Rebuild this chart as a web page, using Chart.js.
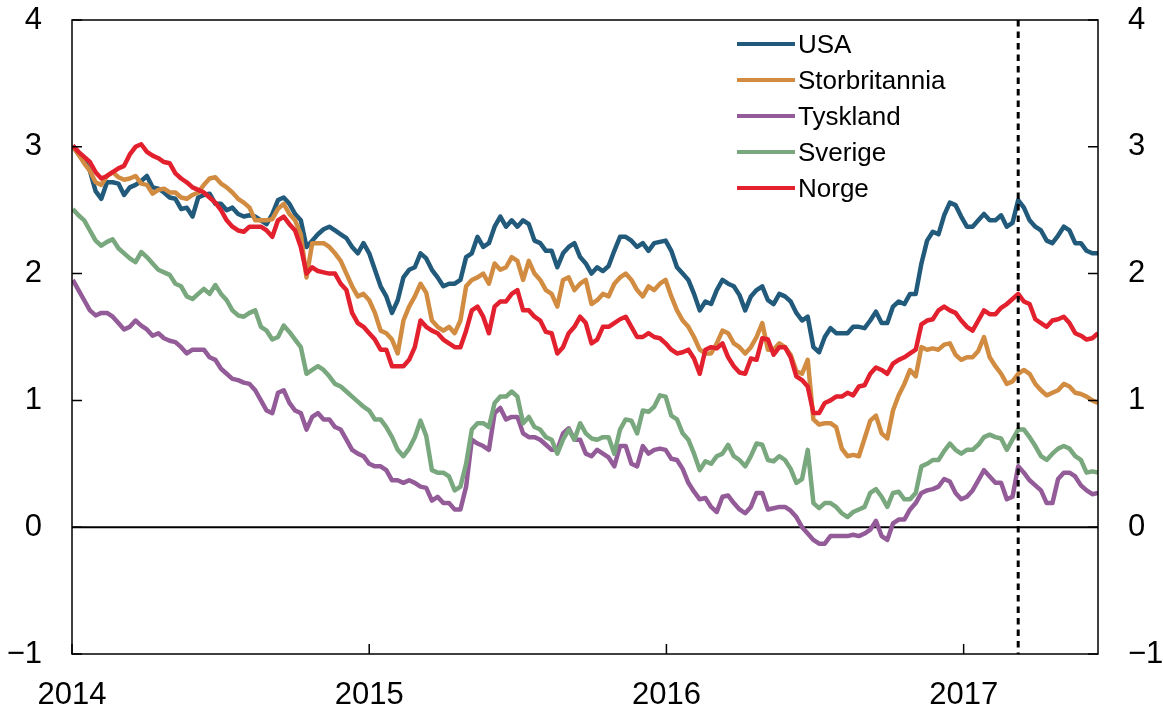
<!DOCTYPE html>
<html>
<head>
<meta charset="utf-8">
<script src="https://cdn.jsdelivr.net/npm/chart.js@4.4.1/dist/chart.umd.min.js"></script>
<style>
  body { margin: 0; background: #fff; }
  #wrap { position: relative; width: 1163px; height: 711px; }
  #legend {
    position: absolute; left: 737px; top: 26px;
    font-family: "Liberation Sans", Arial, sans-serif; font-size: 26px; color: #000;
  }
  .row { height: 36px; display: flex; align-items: center; white-space: nowrap; }
  .swatch { width: 58px; height: 4px; margin-right: 3px; }
</style>
</head>
<body>
<div id="wrap">
  <canvas id="chart" width="1163" height="711"></canvas>
  <div id="legend"></div>
</div>
<script>
// weekly observations, 10-year government bond yields (percent)
const dates = [
  "2014-01-02","2014-01-09","2014-01-16","2014-01-23","2014-01-30","2014-02-06","2014-02-13","2014-02-20",
  "2014-02-27","2014-03-06","2014-03-13","2014-03-20","2014-03-27","2014-04-03","2014-04-10","2014-04-17",
  "2014-04-24","2014-05-01","2014-05-08","2014-05-15","2014-05-22","2014-05-29","2014-06-05","2014-06-12",
  "2014-06-19","2014-06-26","2014-07-03","2014-07-10","2014-07-17","2014-07-24","2014-07-31","2014-08-07",
  "2014-08-14","2014-08-21","2014-08-28","2014-09-04","2014-09-11","2014-09-18","2014-09-25","2014-10-02",
  "2014-10-09","2014-10-16","2014-10-23","2014-10-30","2014-11-06","2014-11-13","2014-11-20","2014-11-27",
  "2014-12-04","2014-12-11","2014-12-18","2014-12-25",
  "2015-01-01","2015-01-08","2015-01-15","2015-01-22","2015-01-29","2015-02-05","2015-02-12","2015-02-19",
  "2015-02-26","2015-03-05","2015-03-12","2015-03-19","2015-03-26","2015-04-02","2015-04-09","2015-04-16",
  "2015-04-23","2015-04-30","2015-05-07","2015-05-14","2015-05-21","2015-05-28","2015-06-04","2015-06-11",
  "2015-06-18","2015-06-25","2015-07-02","2015-07-09","2015-07-16","2015-07-23","2015-07-30","2015-08-06",
  "2015-08-13","2015-08-20","2015-08-27","2015-09-03","2015-09-10","2015-09-17","2015-09-24","2015-10-01",
  "2015-10-08","2015-10-15","2015-10-22","2015-10-29","2015-11-05","2015-11-12","2015-11-19","2015-11-26",
  "2015-12-03","2015-12-10","2015-12-17","2015-12-24","2015-12-31",
  "2016-01-07","2016-01-14","2016-01-21","2016-01-28","2016-02-04","2016-02-11","2016-02-18","2016-02-25",
  "2016-03-03","2016-03-10","2016-03-17","2016-03-24","2016-03-31","2016-04-07","2016-04-14","2016-04-21",
  "2016-04-28","2016-05-05","2016-05-12","2016-05-19","2016-05-26","2016-06-02","2016-06-09","2016-06-16",
  "2016-06-23","2016-06-30","2016-07-07","2016-07-14","2016-07-21","2016-07-28","2016-08-04","2016-08-11",
  "2016-08-18","2016-08-25","2016-09-01","2016-09-08","2016-09-15","2016-09-22","2016-09-29","2016-10-06",
  "2016-10-13","2016-10-20","2016-10-27","2016-11-03","2016-11-10","2016-11-17","2016-11-24","2016-12-01",
  "2016-12-08","2016-12-15","2016-12-22","2016-12-29",
  "2017-01-05","2017-01-12","2017-01-19","2017-01-26","2017-02-02","2017-02-09","2017-02-16","2017-02-23",
  "2017-03-02","2017-03-09","2017-03-16","2017-03-23","2017-03-30","2017-04-06","2017-04-13","2017-04-20",
  "2017-04-27","2017-05-04","2017-05-11","2017-05-18","2017-05-25","2017-06-01","2017-06-08","2017-06-15"
];

const usa = [
  3.01,2.94,2.89,2.81,2.65,2.59,2.72,2.72,2.71,2.62,2.68,2.70,2.73,2.77,2.68,2.67,
  2.64,2.60,2.59,2.51,2.52,2.45,2.60,2.62,2.63,2.55,2.55,2.50,2.52,2.47,2.45,2.46,
  2.45,2.42,2.39,2.47,2.58,2.60,2.55,2.47,2.42,2.21,2.26,2.31,2.35,2.37,2.34,2.31,
  2.28,2.21,2.16,2.24,2.16,2.03,1.90,1.82,1.69,1.79,1.97,2.03,2.05,2.16,2.12,2.03,
  1.97,1.90,1.92,1.92,1.95,2.13,2.16,2.29,2.21,2.24,2.37,2.45,2.37,2.42,2.37,2.42,
  2.39,2.26,2.24,2.18,2.18,2.05,2.16,2.21,2.24,2.13,2.08,2.00,2.05,2.02,2.06,2.18,
  2.29,2.29,2.26,2.21,2.24,2.18,2.24,2.25,2.26,2.18,2.05,2.00,1.95,1.84,1.71,1.78,
  1.76,1.87,1.95,1.92,1.90,1.83,1.71,1.82,1.87,1.90,1.79,1.76,1.84,1.82,1.78,1.69,
  1.63,1.66,1.42,1.38,1.50,1.57,1.53,1.53,1.53,1.58,1.58,1.57,1.63,1.70,1.61,1.61,
  1.74,1.78,1.76,1.84,1.84,2.08,2.26,2.33,2.31,2.46,2.56,2.54,2.45,2.37,2.37,2.42,
  2.47,2.42,2.42,2.46,2.37,2.40,2.58,2.52,2.42,2.37,2.34,2.26,2.24,2.30,2.37,2.34,
  2.24,2.24,2.18,2.16,2.16
];
const storbritannia = [
  3.00,2.94,2.87,2.81,2.72,2.70,2.77,2.80,2.76,2.74,2.75,2.77,2.71,2.70,2.63,2.66,
  2.67,2.64,2.64,2.60,2.59,2.62,2.64,2.70,2.75,2.76,2.71,2.68,2.64,2.59,2.56,2.52,
  2.42,2.42,2.42,2.43,2.51,2.55,2.47,2.42,2.31,1.97,2.24,2.24,2.24,2.21,2.16,2.10,
  2.00,1.90,1.82,1.84,1.79,1.69,1.55,1.53,1.48,1.37,1.63,1.74,1.82,1.92,1.85,1.63,
  1.58,1.55,1.58,1.53,1.63,1.90,1.95,1.97,2.00,1.92,2.08,2.03,2.05,2.13,2.10,1.95,
  2.10,2.00,1.95,1.87,1.84,1.74,1.95,1.97,1.87,1.92,1.95,1.76,1.79,1.84,1.82,1.92,
  1.97,2.00,1.95,1.87,1.82,1.90,1.87,1.92,1.95,1.82,1.71,1.63,1.58,1.50,1.40,1.37,
  1.37,1.45,1.55,1.53,1.45,1.42,1.37,1.42,1.50,1.61,1.40,1.40,1.45,1.42,1.36,1.23,
  1.21,1.32,0.85,0.81,0.82,0.82,0.79,0.62,0.56,0.57,0.56,0.70,0.84,0.88,0.74,0.70,
  0.92,1.04,1.13,1.24,1.19,1.42,1.40,1.41,1.40,1.44,1.45,1.36,1.32,1.34,1.34,1.39,
  1.50,1.34,1.27,1.21,1.13,1.15,1.21,1.24,1.21,1.13,1.08,1.04,1.06,1.08,1.13,1.11,
  1.06,1.05,1.03,1.00,0.98
];
const tyskland = [
  1.95,1.87,1.79,1.71,1.67,1.69,1.69,1.66,1.61,1.56,1.58,1.63,1.59,1.56,1.51,1.53,
  1.49,1.47,1.46,1.42,1.37,1.40,1.40,1.40,1.34,1.32,1.25,1.21,1.17,1.16,1.14,1.13,
  1.08,1.00,0.92,0.90,1.06,1.08,0.98,0.92,0.90,0.77,0.87,0.90,0.85,0.85,0.79,0.77,
  0.69,0.61,0.58,0.56,0.50,0.48,0.48,0.45,0.37,0.37,0.35,0.37,0.35,0.32,0.31,0.21,
  0.24,0.19,0.19,0.14,0.14,0.32,0.69,0.66,0.64,0.61,0.90,0.94,0.85,0.87,0.87,0.74,
  0.71,0.71,0.69,0.65,0.61,0.61,0.74,0.78,0.69,0.69,0.58,0.56,0.61,0.58,0.55,0.48,
  0.64,0.64,0.50,0.48,0.64,0.58,0.61,0.62,0.61,0.54,0.53,0.46,0.35,0.28,0.22,0.23,
  0.16,0.12,0.24,0.25,0.19,0.14,0.11,0.16,0.27,0.27,0.14,0.15,0.16,0.16,0.13,0.08,
  0.00,-0.05,-0.10,-0.13,-0.13,-0.07,-0.07,-0.07,-0.07,-0.06,-0.07,-0.05,-0.02,0.05,-0.07,-0.10,
  0.03,0.06,0.06,0.14,0.19,0.27,0.29,0.30,0.32,0.38,0.36,0.27,0.22,0.24,0.29,0.37,
  0.45,0.40,0.35,0.35,0.22,0.24,0.48,0.43,0.37,0.33,0.29,0.19,0.19,0.38,0.43,0.43,
  0.40,0.33,0.29,0.26,0.27
];
const sverige = [
  2.51,2.46,2.42,2.34,2.26,2.22,2.25,2.27,2.20,2.16,2.12,2.09,2.17,2.13,2.08,2.03,
  2.01,1.99,1.92,1.90,1.82,1.80,1.84,1.88,1.84,1.91,1.84,1.79,1.71,1.67,1.66,1.69,
  1.71,1.58,1.55,1.48,1.50,1.59,1.54,1.48,1.42,1.21,1.24,1.27,1.24,1.19,1.13,1.11,
  1.07,1.03,0.99,0.95,0.92,0.85,0.85,0.79,0.71,0.61,0.56,0.62,0.71,0.84,0.72,0.45,
  0.43,0.43,0.40,0.29,0.32,0.50,0.77,0.82,0.82,0.79,0.98,1.03,1.03,1.07,1.03,0.82,
  0.87,0.79,0.77,0.71,0.69,0.58,0.69,0.77,0.69,0.82,0.74,0.70,0.69,0.71,0.71,0.58,
  0.77,0.85,0.84,0.74,0.92,0.91,0.95,1.04,1.03,0.88,0.85,0.74,0.69,0.58,0.45,0.52,
  0.50,0.56,0.58,0.65,0.56,0.53,0.48,0.56,0.66,0.65,0.53,0.52,0.56,0.53,0.46,0.35,
  0.38,0.61,0.19,0.15,0.19,0.19,0.16,0.11,0.08,0.12,0.14,0.16,0.27,0.30,0.24,0.16,
  0.27,0.28,0.22,0.22,0.27,0.48,0.50,0.53,0.53,0.60,0.66,0.61,0.58,0.61,0.61,0.65,
  0.71,0.73,0.71,0.70,0.61,0.69,0.77,0.77,0.71,0.64,0.56,0.53,0.58,0.62,0.64,0.62,
  0.56,0.53,0.43,0.44,0.43
];
const norge = [
  3.01,2.96,2.92,2.88,2.80,2.75,2.77,2.80,2.83,2.85,2.94,3.00,3.02,2.96,2.93,2.91,
  2.88,2.87,2.79,2.75,2.72,2.68,2.66,2.64,2.60,2.56,2.50,2.42,2.37,2.34,2.33,2.37,
  2.37,2.37,2.34,2.29,2.42,2.45,2.39,2.34,2.21,2.00,2.05,2.02,2.01,2.00,2.00,1.92,
  1.87,1.69,1.61,1.58,1.53,1.48,1.40,1.40,1.27,1.27,1.27,1.32,1.42,1.63,1.58,1.55,
  1.53,1.48,1.45,1.42,1.42,1.55,1.71,1.74,1.66,1.53,1.74,1.78,1.78,1.84,1.87,1.71,
  1.71,1.66,1.63,1.54,1.53,1.37,1.42,1.53,1.58,1.66,1.61,1.45,1.48,1.58,1.58,1.61,
  1.64,1.66,1.58,1.50,1.50,1.53,1.50,1.49,1.45,1.40,1.37,1.38,1.40,1.33,1.21,1.40,
  1.42,1.41,1.45,1.34,1.27,1.22,1.21,1.33,1.32,1.49,1.48,1.36,1.42,1.42,1.34,1.19,
  1.16,1.11,0.90,0.90,0.98,1.00,1.03,1.03,1.06,1.04,1.11,1.12,1.21,1.26,1.24,1.21,
  1.29,1.32,1.34,1.37,1.40,1.60,1.63,1.64,1.71,1.74,1.71,1.69,1.63,1.58,1.55,1.63,
  1.71,1.68,1.68,1.73,1.76,1.80,1.84,1.78,1.76,1.64,1.61,1.58,1.63,1.64,1.66,1.61,
  1.53,1.51,1.48,1.49,1.53
];

const seriesNames = ["USA", "Storbritannia", "Tyskland", "Sverige", "Norge"];
const seriesValues = [usa, storbritannia, tyskland, sverige, norge];
const seriesColors = ["#215a7b", "#d18c42", "#945b99", "#79a77e", "#e2202e"];
const yearTicks = [2014, 2015, 2016, 2017];
const yTicks = [-1, 0, 1, 2, 3, 4];
const markerDate = "2017-03-09";

function toYear(s) {
  const [y, m, d] = s.split("-").map(Number);
  const day = (Date.UTC(y, m - 1, d) - Date.UTC(y, 0, 1)) / 86400000;
  const len = (Date.UTC(y + 1, 0, 1) - Date.UTC(y, 0, 1)) / 86400000;
  return y + day / len;
}

const xs = dates.map(toYear);
const font = { family: "'Liberation Sans', Arial, sans-serif", size: 31 };

const datasets = seriesNames.map((name, i) => ({
  label: name,
  data: seriesValues[i].map((v, j) => ({ x: xs[j], y: v })),
  borderColor: seriesColors[i],
  borderWidth: 4.5,
  borderJoinStyle: "round",
  pointRadius: 0,
  tension: 0,
  order: seriesNames.length - i
}));

const decor = {
  id: "decor",
  beforeDatasetsDraw(chart) {
    const { ctx, chartArea, scales } = chart;
    const y0 = scales.y.getPixelForValue(0);
    ctx.save();
    ctx.strokeStyle = "#000";
    ctx.lineWidth = 2;
    ctx.beginPath();
    ctx.moveTo(chartArea.left, y0);
    ctx.lineTo(chartArea.right, y0);
    ctx.stroke();
    ctx.restore();
  },
  afterDatasetsDraw(chart) {
    const { ctx, chartArea, scales } = chart;
    const a = chartArea;
    ctx.save();
    // dotted marker
    const xm = scales.x.getPixelForValue(toYear(markerDate));
    ctx.strokeStyle = "#000";
    ctx.lineWidth = 3;
    ctx.setLineDash([6.5, 5]);
    ctx.beginPath();
    ctx.moveTo(xm, a.top);
    ctx.lineTo(xm, a.bottom);
    ctx.stroke();
    ctx.setLineDash([]);
    // frame
    ctx.lineWidth = 1.5;
    ctx.strokeRect(a.left, a.top, a.right - a.left, a.bottom - a.top);
    // inward ticks
    ctx.beginPath();
    yTicks.forEach(v => {
      const py = scales.y.getPixelForValue(v);
      ctx.moveTo(a.left, py); ctx.lineTo(a.left + 10, py);
      ctx.moveTo(a.right, py); ctx.lineTo(a.right - 10, py);
    });
    yearTicks.forEach(v => {
      const px = scales.x.getPixelForValue(v);
      ctx.moveTo(px, a.bottom); ctx.lineTo(px, a.bottom - 10);
    });
    ctx.stroke();
    ctx.restore();
  }
};

const yLabel = v => (v < 0 ? "\u2212" + Math.abs(v) : String(v));
const noPad = axis => { axis.paddingTop = 0; axis.paddingBottom = 0; axis.paddingLeft = 0; axis.paddingRight = 0; };

new Chart(document.getElementById("chart"), {
  type: "line",
  data: { datasets },
  options: {
    responsive: false,
    devicePixelRatio: 1,
    animation: false,
    layout: { padding: { top: 20, left: 0, right: 0, bottom: 0 } },
    plugins: { legend: { display: false }, tooltip: { enabled: false } },
    scales: {
      x: {
        type: "linear",
        position: "bottom",
        min: 2014,
        max: xs[xs.length - 1],
        grid: { display: false, drawTicks: false },
        border: { display: false },
        afterBuildTicks: axis => { axis.ticks = yearTicks.map(v => ({ value: v })); },
        afterFit: axis => { axis.height = 57; noPad(axis); },
        ticks: { font, color: "#000", padding: 23, maxRotation: 0, autoSkip: false, callback: v => String(v) }
      },
      y: {
        position: "left",
        min: -1,
        max: 4,
        grid: { display: false, drawTicks: false },
        border: { display: false },
        afterBuildTicks: axis => { axis.ticks = yTicks.map(v => ({ value: v })); },
        afterFit: axis => { axis.width = 72; noPad(axis); },
        ticks: { font, color: "#000", padding: 30, callback: yLabel }
      },
      y2: {
        position: "right",
        min: -1,
        max: 4,
        grid: { display: false, drawTicks: false },
        border: { display: false },
        afterBuildTicks: axis => { axis.ticks = yTicks.map(v => ({ value: v })); },
        afterFit: axis => { axis.width = 65; noPad(axis); },
        ticks: { font, color: "#000", padding: 30, callback: yLabel }
      }
    }
  },
  plugins: [decor]
});

const legend = document.getElementById("legend");
seriesNames.forEach((name, i) => {
  const row = document.createElement("div");
  row.className = "row";
  row.innerHTML = '<span class="swatch" style="background:' + seriesColors[i] + '"></span><span>' + name + "</span>";
  legend.appendChild(row);
});
</script>
</body>
</html>
